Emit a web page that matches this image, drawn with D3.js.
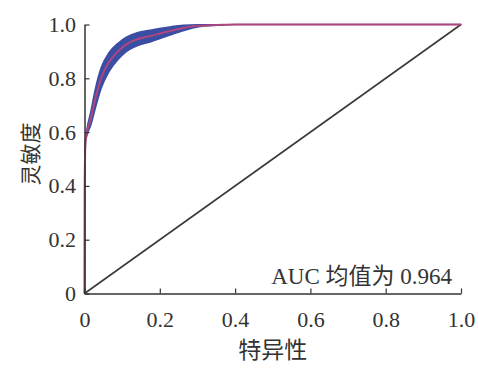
<!DOCTYPE html>
<html>
<head>
<meta charset="utf-8">
<script src="https://cdn.jsdelivr.net/npm/d3@7"></script>
<style>
  body { margin: 0; background: #fff; }
  text { fill: #333; }
</style>
</head>
<body>
<div id="chart"></div>
<script>
// 平均 ROC 曲线及标准差
var fpr = [0, 0.0005, 0.003, 0.0066, 0.017, 0.028, 0.044, 0.065, 0.089, 0.11, 0.14, 0.174, 0.227, 0.262, 0.30, 0.352, 0.40, 1.0];
var tpr = [0, 0.42, 0.57, 0.60, 0.652, 0.72, 0.80, 0.86, 0.90, 0.925, 0.945, 0.957, 0.976, 0.987, 0.995, 0.998, 1.0, 1.0];
var tprStd = [0, 0, 0.005, 0.012, 0.025, 0.035, 0.038, 0.035, 0.03, 0.027, 0.024, 0.022, 0.015, 0.01, 0.004, 0.001, 0, 0];
var xTicks = [0, 0.2, 0.4, 0.6, 0.8, 1.0];
var yTicks = [0, 0.2, 0.4, 0.6, 0.8, 1.0];
var aucText = "AUC 均值为 0.964";

var serif = "'Liberation Serif', 'Times New Roman', 'DejaVu Serif', serif";
var W = 478, H = 369;
var margin = { top: 24.5, right: 17, bottom: 75.5, left: 84.5 };

var svg = d3.select("#chart").append("svg")
    .attr("width", W).attr("height", H);

var x = d3.scaleLinear().domain([0, 1]).range([margin.left, W - margin.right]);
var y = d3.scaleLinear().domain([0, 1]).range([H - margin.bottom, margin.top]);

var pts = fpr.map(function(f, i){ return { f: f, t: tpr[i], s: tprStd[i] }; });

// 标准差带
var band = d3.area()
    .x(d => x(d.f))
    .y0(d => y(Math.max(0, d.t - d.s)))
    .y1(d => y(Math.min(1, d.t + d.s)))
    .curve(d3.curveMonotoneX);
svg.append("path").datum(pts)
    .attr("d", band)
    .attr("fill", "#3a4ea3")
    .attr("stroke", "#3a4ea3")
    .attr("stroke-width", 1.5)
    .attr("stroke-linejoin", "round");

// 对角线
svg.append("line")
    .attr("x1", x(0)).attr("y1", y(0))
    .attr("x2", x(1)).attr("y2", y(1))
    .attr("stroke", "#3a3a3a").attr("stroke-width", 1.6);

// 平均曲线
var line = d3.line().x(d => x(d.f)).y(d => y(d.t)).curve(d3.curveMonotoneX);
svg.append("path").datum(pts)
    .attr("d", line)
    .attr("fill", "none")
    .attr("stroke", "#c4457a")
    .attr("stroke-opacity", 0.85)
    .attr("stroke-width", 2);

// 坐标轴
var fmt = d => d === 0 ? "0" : d3.format(".1f")(d);
var xAxis = svg.append("g")
    .attr("transform", "translate(0," + y(0) + ")")
    .call(d3.axisBottom(x).tickValues(xTicks).tickSizeInner(-5).tickSizeOuter(0).tickFormat(fmt));
var yAxis = svg.append("g")
    .attr("transform", "translate(" + x(0) + ",0)")
    .call(d3.axisLeft(y).tickValues(yTicks).tickSizeInner(-5).tickSizeOuter(0).tickFormat(fmt));

[xAxis, yAxis].forEach(function(a){
  a.attr("font-family", serif).attr("font-size", 22);
  a.select(".domain").attr("stroke", "#333").attr("stroke-width", 1.5);
  a.selectAll(".tick line").attr("stroke", "#333").attr("stroke-width", 1.2);
  a.selectAll(".tick text").attr("fill", "#333");
});
xAxis.selectAll(".tick text").attr("y", 18);
yAxis.selectAll(".tick text").attr("x", -8.5);

// 轴标题
svg.append("text")
    .attr("x", (x(0) + x(1)) / 2).attr("y", 358)
    .attr("text-anchor", "middle")
    .attr("font-family", "'Noto Sans CJK SC', sans-serif")
    .attr("font-size", 23)
    .text("特异性");
svg.append("text")
    .attr("transform", "translate(38,154) rotate(-90)")
    .attr("text-anchor", "middle")
    .attr("font-family", "'Noto Sans CJK SC', sans-serif")
    .attr("font-size", 21)
    .text("灵敏度");

// AUC 标注
svg.append("text")
    .attr("x", 452).attr("y", 284)
    .attr("text-anchor", "end")
    .attr("font-family", serif + ", 'Noto Sans CJK SC'")
    .attr("font-size", 23)
    .text(aucText);
</script>
</body>
</html>
